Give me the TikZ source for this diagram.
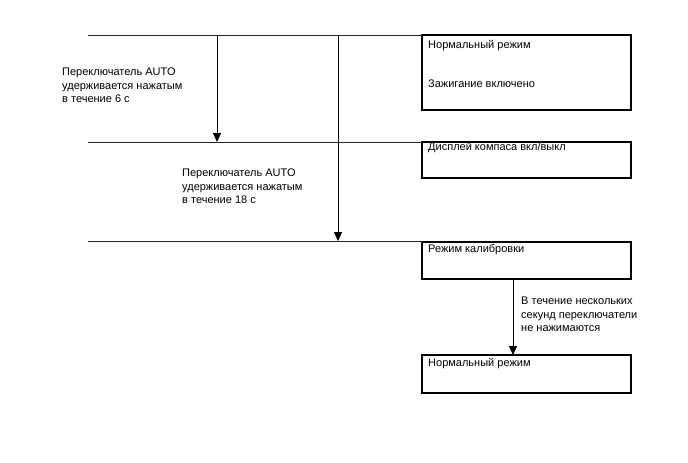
\documentclass[tikz,border=0pt]{standalone}
\usepackage{fontspec}
\setmainfont{Liberation Sans}
\usetikzlibrary{arrows.meta}
\begin{document}
\begin{tikzpicture}[x=1pt,y=-1pt,
  box/.style={draw,line width=1.3pt},
  ln/.style={line width=0.9pt,draw=black!85},
  arr/.style={line width=0.9pt,-{Triangle[length=9pt,width=8pt]}},
  lbl/.style={anchor=north west,inner sep=0pt,align=left,font=\fontsize{11}{13.5}\selectfont},
  btxt/.style={anchor=west,inner sep=0pt,font=\fontsize{11}{13}\selectfont}]
\useasboundingbox (0,0) rectangle (688,463);
% boxes
\draw[box] (422,35) rectangle (631,110);
\node[btxt] (t1a) at (428,46) {Нормальный режим};
\node[btxt] (t1b) at (428,84) {Зажигание включено};
\draw[box] (422,142) rectangle (631,178);
\node[btxt] (t2) at (428,148) {Дисплей компаса вкл/выкл};
\draw[box] (422,242) rectangle (631,279);
\node[btxt] (t3) at (428,250) {Режим калибровки};
\draw[box] (422,355) rectangle (631,393);
\node[btxt] (t4) at (428,364) {Нормальный режим};
% coordinates
\coordinate (h1a) at (88,35); \coordinate (h1b) at (422,35);
\coordinate (h2a) at (88,142); \coordinate (h2b) at (422,142);
\coordinate (h3a) at (88,241); \coordinate (h3b) at (422,241);
\coordinate (v1a) at (217,35); \coordinate (v1b) at (217,142);
\coordinate (v2a) at (338,35); \coordinate (v2b) at (338,241);
\coordinate (v3a) at (513,279); \coordinate (v3b) at (513,355);
\draw[ln] (h1a) -- (h1b);
\draw[ln] (h2a) -- (h2b);
\draw[ln] (h3a) -- (h3b);
\draw[arr] (v1a) -- (v1b);
\draw[arr] (v2a) -- (v2b);
\draw[arr] (v3a) -- (v3b);
% labels
\node[lbl] (l1) at (62,68) {Переключатель AUTO\\удерживается нажатым\\в течение 6 с};
\node[lbl] (l2) at (182,169) {Переключатель AUTO\\удерживается нажатым\\в течение 18 с};
\node[lbl] (l3) at (521,297) {В течение нескольких\\секунд переключатели\\не нажимаются};
\end{tikzpicture}
\end{document}
